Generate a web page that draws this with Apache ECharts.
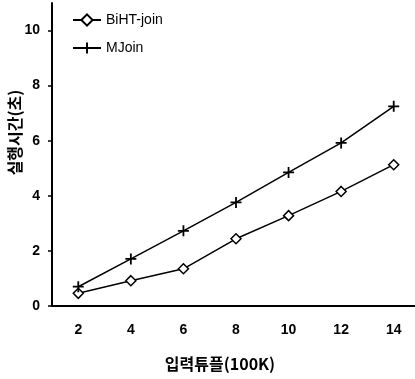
<!DOCTYPE html>
<html>
<head>
<meta charset="utf-8">
<script src="https://cdn.jsdelivr.net/npm/echarts@6/dist/echarts.min.js"></script>
<style>
  html, body { margin: 0; padding: 0; background: #fff; }
  #main { width: 415px; height: 379px; }
</style>
</head>
<body>
<div id="main"></div>
<script>
var categories = ['2', '4', '6', '8', '10', '12', '14'];
var bihtJoin = [0.46, 0.92, 1.35, 2.44, 3.28, 4.16, 5.13];
var mJoin = [0.70, 1.71, 2.73, 3.76, 4.85, 5.92, 7.25];
var yTicks = [0, 2, 4, 6, 8, 10];

var font = 'Liberation Sans, Arial, sans-serif';
var krFont = '"Noto Sans CJK KR", sans-serif';

var option = {
    animation: false,
    backgroundColor: '#fff',
    grid: { left: 52, right: -5, top: 3, bottom: 73, outerBoundsMode: 'none', containLabel: false },
    legend: {
        orient: 'vertical',
        left: 72,
        top: 13,
        padding: 0,
        itemWidth: 28,
        itemHeight: 14,
        itemGap: 14,
        textStyle: { fontFamily: font, fontSize: 14, color: '#000' },
        data: ['BiHT-join', 'MJoin']
    },
    xAxis: {
        type: 'category',
        data: categories,
        boundaryGap: true,
        name: '입력튜플(100K)',
        nameLocation: 'middle',
        nameGap: 50,
        nameMoveOverlap: false,
        nameTextStyle: { fontFamily: krFont, fontSize: 16, fontWeight: 'bold', color: '#000', padding: [0, 32, 0, 0] },
        axisLine: { lineStyle: { color: '#000', width: 2 } },
        axisTick: { show: false },
        axisLabel: { margin: 17, fontFamily: font, fontSize: 14, fontWeight: 'bold', color: '#000' },
        splitLine: { show: false }
    },
    yAxis: {
        type: 'value',
        min: 0,
        max: 11,
        interval: 2,
        name: '실행시간(초)',
        nameLocation: 'middle',
        nameGap: 29,
        nameRotate: 90,
        nameMoveOverlap: false,
        nameTextStyle: { fontFamily: krFont, fontSize: 16, fontWeight: 'bold', color: '#000', padding: [0, 0, 0, 44] },
        axisLine: { show: true, lineStyle: { color: '#000', width: 2 } },
        axisTick: { show: true, length: 4, customValues: yTicks, lineStyle: { color: '#000', width: 1.5 } },
        axisLabel: { margin: 12, customValues: yTicks, fontFamily: font, fontSize: 14, fontWeight: 'bold', color: '#000' },
        splitLine: { show: false }
    },
    series: [
        {
            name: 'BiHT-join',
            type: 'line',
            data: bihtJoin,
            symbol: 'diamond',
            symbolSize: 10,
            showAllSymbol: true,
            lineStyle: { color: '#000', width: 1.5 },
            itemStyle: { color: '#fff', borderColor: '#000', borderWidth: 1.5 }
        },
        {
            name: 'MJoin',
            type: 'line',
            data: mJoin,
            symbol: 'path://M5,0V10M0,5H10',
            symbolSize: 11,
            showAllSymbol: true,
            lineStyle: { color: '#000', width: 1.5 },
            itemStyle: { color: '#000', borderColor: '#000', borderWidth: 1.8 }
        }
    ]
};

var myChart = echarts.init(document.getElementById('main'));
myChart.setOption(option);
</script>
</body>
</html>
